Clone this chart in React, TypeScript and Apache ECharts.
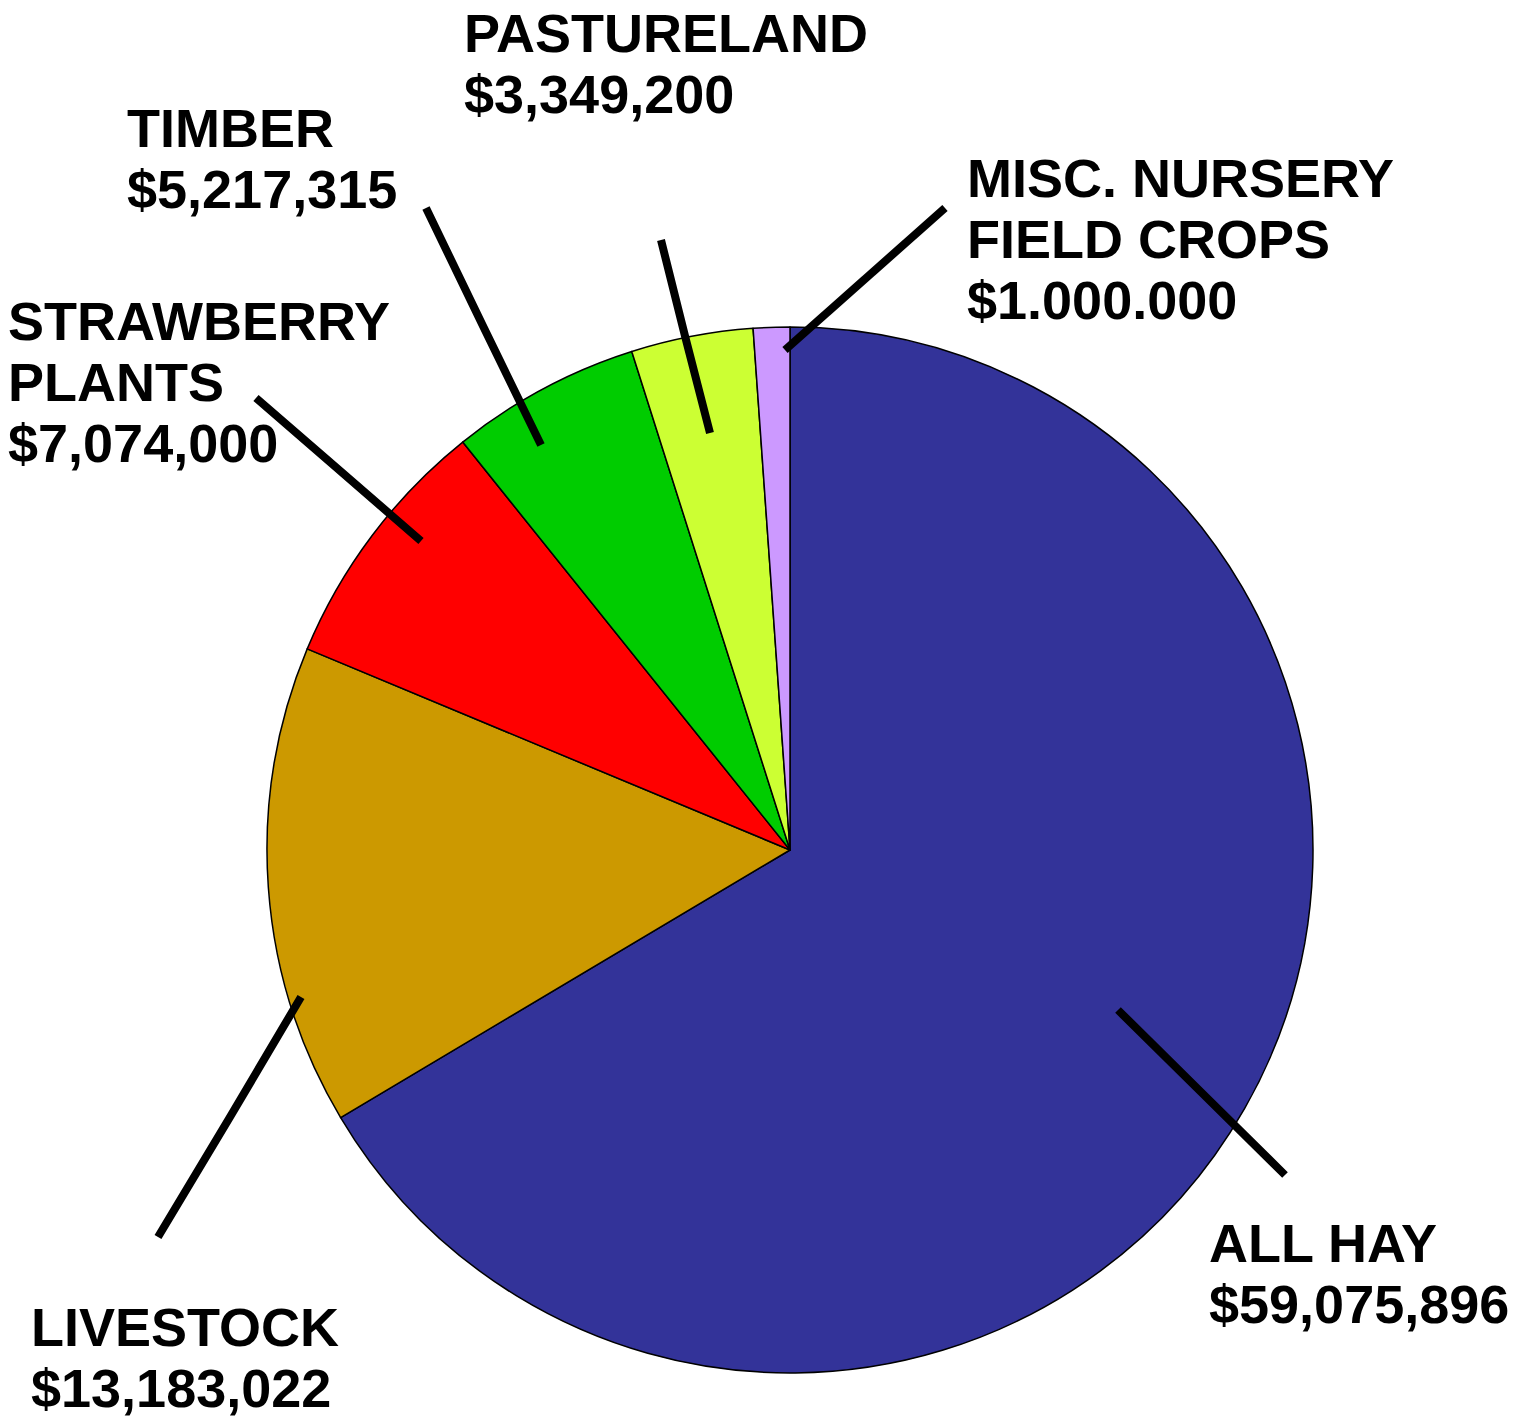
import React, { useEffect, useRef } from "react";
import * as echarts from "echarts";

// ---- data ----
const categories = [
  "ALL HAY",
  "LIVESTOCK",
  "STRAWBERRY\nPLANTS",
  "TIMBER",
  "PASTURELAND",
  "MISC. NURSERY\nFIELD CROPS",
];
const values = [59075896, 13183022, 7074000, 5217315, 3349200, 1000000];
const valueLabels = [
  "$59,075,896",
  "$13,183,022",
  "$7,074,000",
  "$5,217,315",
  "$3,349,200",
  "$1.000.000",
];
const colors = ["#333399", "#CC9900", "#FF0000", "#00CC00", "#CCFF33", "#CC99FF"];

// ---- layout (label anchors and leader lines, in pixels) ----
const labelAnchors: [number, number][] = [
  [1209, 1212],
  [31, 1296],
  [8, 290],
  [127, 97],
  [464, 2],
  [967, 147],
];
const leaderLines: [number, number][][] = [
  [[1118, 1010], [1201, 1092], [1285, 1175]],
  [[301, 997], [230, 1117], [158, 1237]],
  [[256, 398], [338, 469], [421, 541]],
  [[426, 208], [483, 326], [541, 445]],
  [[661, 240], [685, 336], [710, 433]],
  [[945, 208], [865, 279], [785, 350]],
];

export default function App() {
  const ref = useRef<HTMLDivElement>(null);
  useEffect(() => {
    if (!ref.current) return;
    const chart = echarts.init(ref.current, null, { renderer: "svg" });
    const common = {
      type: "pie",
      center: [790, 850],
      radius: 523,
      startAngle: 90,
      clockwise: true,
      avoidLabelOverlap: false,
      silent: true,
      emphasis: { disabled: true },
    };
    chart.setOption({
      animation: false,
      backgroundColor: "#ffffff",
      series: [
        {
          ...common,
          z: 2,
          itemStyle: { borderColor: "#000000", borderWidth: 1.5 },
          label: { show: false },
          labelLine: { show: false },
          data: categories.map((name, i) => ({
            name,
            value: values[i],
            itemStyle: { color: colors[i] },
          })),
        },
        {
          ...common,
          z: 5,
          itemStyle: { color: "rgba(0,0,0,0)", borderWidth: 0 },
          label: {
            show: true,
            position: "outer",
            color: "#000000",
            fontFamily: "Liberation Sans, Arial, sans-serif",
            fontWeight: "bold",
            fontSize: 54,
            lineHeight: 61,
            formatter: (p: any) => `${p.name}\n${valueLabels[p.dataIndex]}`,
          },
          labelLine: {
            show: true,
            smooth: false,
            lineStyle: { color: "#000000", width: 8 },
          },
          labelLayout: (params: any) => {
            const a = labelAnchors[params.dataIndex];
            return {
              x: a[0],
              y: a[1],
              align: "left",
              verticalAlign: "top",
              labelLinePoints: leaderLines[params.dataIndex],
            };
          },
          data: categories.map((name, i) => ({ name, value: values[i] })),
        },
      ],
    });
    return () => chart.dispose();
  }, []);
  return (
    <div
      ref={ref}
      style={{ position: "absolute", left: 0, top: 0, width: 1523, height: 1416 }}
    />
  );
}
